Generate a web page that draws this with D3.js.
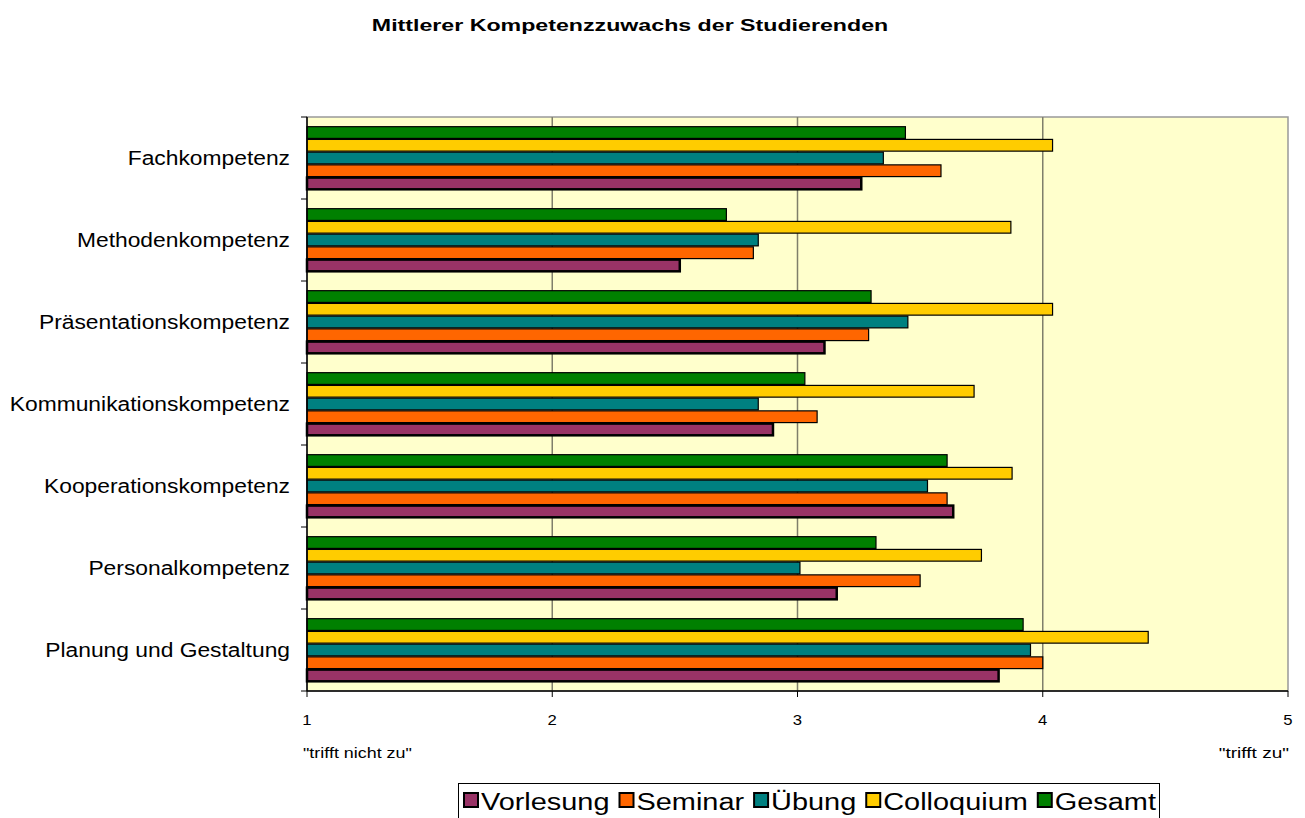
<!DOCTYPE html>
<html>
<head>
<meta charset="utf-8">
<script src="https://cdn.jsdelivr.net/npm/d3@7"></script>
<style>
  body { margin: 0; background: #fff; }
  svg { font-family: "Liberation Sans", Arial, sans-serif; }
</style>
</head>
<body>
<div id="chart"></div>
<script>
const categories = ["Fachkompetenz", "Methodenkompetenz", "Präsentationskompetenz",
  "Kommunikationskompetenz", "Kooperationskompetenz", "Personalkompetenz", "Planung und Gestaltung"]
const seriesNames = ["Vorlesung", "Seminar", "Übung", "Colloquium", "Gesamt"]
const vorlesung = [3.26, 2.52, 3.11, 2.90, 3.635, 3.16, 3.82]
const seminar = [3.585, 2.82, 3.29, 3.08, 3.61, 3.50, 4.00]
const uebung = [3.35, 2.84, 3.45, 2.84, 3.53, 3.01, 3.95]
const colloquium = [4.04, 3.87, 4.04, 3.72, 3.875, 3.75, 4.43]
const gesamt = [3.44, 2.71, 3.30, 3.03, 3.61, 3.32, 3.92]
const xTicks = [1, 2, 3, 4, 5]

const colors = ["#993366", "#FF6600", "#008080", "#FFCC00", "#008000"]
const allSeries = [vorlesung, seminar, uebung, colloquium, gesamt]

const W = 1305, H = 818
const PLOT = { LEFT: 307, RIGHT: 1288, TOP: 117, BOTTOM: 691 }

const svg = d3.select("#chart").append("svg")
  .attr("width", W).attr("height", H)

// text in the original is stretched horizontally
function wideText(parent, x, y, str, size, sx, anchor) {
  return parent.append("text")
    .attr("transform", `translate(${x}, ${y}) scale(${sx}, 1)`)
    .attr("text-anchor", anchor || "start")
    .style("font-size", size + "px")
    .text(str)
}

wideText(svg, 630, 31, "Mittlerer Kompetenzzuwachs der Studierenden", 16, 1.45, "middle")
  .style("font-weight", "bold")

const x = d3.scaleLinear().domain([1, 5]).range([PLOT.LEFT, PLOT.RIGHT])
const y = d3.scaleBand().domain(categories).range([PLOT.TOP, PLOT.BOTTOM])
  .paddingInner(0.224).paddingOuter(0.112)
// top-to-bottom order inside a group: Gesamt ... Vorlesung
const ySub = d3.scaleBand().domain([4, 3, 2, 1, 0]).range([0, y.bandwidth()])

// plot background
svg.append("rect")
  .attr("x", PLOT.LEFT).attr("y", PLOT.TOP)
  .attr("width", PLOT.RIGHT - PLOT.LEFT).attr("height", PLOT.BOTTOM - PLOT.TOP)
  .attr("fill", "#FFFFCC").attr("stroke", "#999").attr("stroke-width", 1.5)

// gridlines
svg.append("g").selectAll("line")
  .data(xTicks.slice(1, -1))
  .join("line")
    .attr("x1", d => x(d)).attr("x2", d => x(d))
    .attr("y1", PLOT.TOP).attr("y2", PLOT.BOTTOM)
    .attr("stroke", "#7f7f6a").attr("stroke-width", 1.5)

// bars
const groups = svg.append("g").selectAll("g")
  .data(categories)
  .join("g")
    .attr("transform", d => `translate(0, ${y(d)})`)

groups.selectAll("rect")
  .data((c, i) => allSeries.map((s, k) => ({ k, v: s[i] })))
  .join("rect")
    .attr("x", x(1))
    .attr("y", d => ySub(d.k) + 0.5)
    .attr("width", d => x(d.v) - x(1))
    .attr("height", ySub.bandwidth() - 1)
    .attr("fill", d => colors[d.k])
    .attr("stroke", "#000")
    .attr("stroke-width", d => d.k == 0 ? 2.5 : 1.2)

// y axis
const yAxis = svg.append("g")
yAxis.append("line")
  .attr("x1", PLOT.LEFT).attr("x2", PLOT.LEFT)
  .attr("y1", PLOT.TOP).attr("y2", PLOT.BOTTOM)
  .attr("stroke", "#000").attr("stroke-width", 1.5)
yAxis.selectAll(".tk")
  .data(d3.range(categories.length + 1))
  .join("line")
    .attr("x1", PLOT.LEFT - 6).attr("x2", PLOT.LEFT)
    .attr("y1", i => PLOT.TOP + i * y.step()).attr("y2", i => PLOT.TOP + i * y.step())
    .attr("stroke", "#000")
categories.forEach(c => {
  wideText(yAxis, 290, y(c) + y.bandwidth() / 2 + 7, c, 19.5, 1.17, "end")
})

// x axis
const xAxis = svg.append("g")
xAxis.append("line")
  .attr("x1", PLOT.LEFT).attr("x2", PLOT.RIGHT)
  .attr("y1", PLOT.BOTTOM).attr("y2", PLOT.BOTTOM)
  .attr("stroke", "#000").attr("stroke-width", 1.5)
xAxis.selectAll(".tk")
  .data(xTicks)
  .join("line")
    .attr("x1", d => x(d)).attr("x2", d => x(d))
    .attr("y1", PLOT.BOTTOM).attr("y2", PLOT.BOTTOM + 6)
    .attr("stroke", "#000")
xTicks.forEach(t => {
  wideText(xAxis, x(t), 725, t, 14.5, 1.15, "middle")
})

wideText(svg, 303, 758, '"trifft nicht zu"', 14, 1.28)
wideText(svg, 1289, 758, '"trifft zu"', 14, 1.36, "end")

// legend
const legend = svg.append("g")
legend.append("rect")
  .attr("x", 458.5).attr("y", 783.5).attr("width", 701).attr("height", 40)
  .attr("fill", "#fff").attr("stroke", "#000")
const LSX = 1.23
let lx = 464
seriesNames.forEach((name, k) => {
  legend.append("rect")
    .attr("x", lx).attr("y", 793).attr("width", 14).attr("height", 14)
    .attr("fill", colors[k]).attr("stroke", "#000").attr("stroke-width", 2)
  const t = wideText(legend, lx + 17, 810, name, 23.5, LSX)
  lx += 17 + t.node().getComputedTextLength() * LSX + 10
})
</script>
</body>
</html>
